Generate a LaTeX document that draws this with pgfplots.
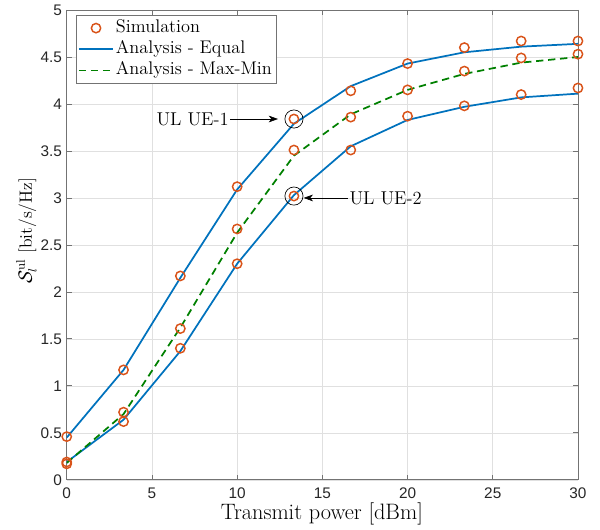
\documentclass[border=0pt]{standalone}
\usepackage{fontspec}
\setsansfont{Liberation Sans}
\usepackage{pgfplots}
\pgfplotsset{compat=1.18}
\usetikzlibrary{arrows.meta}
\definecolor{mblue}{RGB}{0,114,189}
\definecolor{morange}{RGB}{217,83,25}
\definecolor{mgreen}{RGB}{0,128,0}

\begin{document}
\begin{tikzpicture}
\begin{axis}[
    scale only axis,
    width=383pt, height=352pt,
    xmin=0, xmax=30, ymin=0, ymax=5,
    xtick={0,5,10,15,20,25,30},
    ytick={0,0.5,1,1.5,2,2.5,3,3.5,4,4.5,5},
    grid=major,
    major grid style={color=black!12, line width=0.5pt},
    axis line style={color=black!55, line width=0.6pt},
    tick style={color=black!55, line width=0.6pt},
    major tick length=4pt,
    tick align=inside,
    ticklabel style={font=\sffamily\fontsize{11.5}{13}\selectfont, text=black!85},
    xticklabel style={yshift=-2.5pt},
    /pgf/number format/assume math mode=true,
    xlabel={Transmit power [dBm]},
    ylabel={$\mathcal{S}_l^{\mathrm{ul}}$ [bit/s/Hz]},
    xlabel style={at={(axis description cs:0.499,-0.072)}, anchor=center,
        font=\fontsize{16.7}{19}\selectfont},
    ylabel style={at={(axis description cs:-0.079,0.53)}, anchor=center,
        font=\fontsize{13.3}{16}\selectfont},
    legend style={at={(rel axis cs:0.0176,0.989)}, anchor=north west,
        draw=black!55, line width=0.5pt, font=\fontsize{13.7}{16}\selectfont,
        inner sep=1.5pt,
        nodes={text height=9.5pt, text depth=3pt, inner ysep=1.7pt, inner xsep=1.5pt}},
    legend cell align=left,
    legend image code/.code={\draw[mark repeat=2, mark phase=2, #1] plot coordinates {(0cm,0cm) (0.45cm,0cm) (0.9cm,0cm)};},
]
% analysis, equal power: UE-1 and UE-2
\addplot[mblue, line width=1.3pt, forget plot] coordinates {
    (0,0.45) (3.333,1.17) (6.667,2.15) (10,3.09) (13.333,3.79)
    (16.667,4.19) (20,4.43) (23.333,4.55) (26.667,4.61) (30,4.64)};
\addplot[mblue, line width=1.3pt, forget plot] coordinates {
    (0,0.19) (3.333,0.64) (6.667,1.37) (10,2.30) (13.333,3.03)
    (16.667,3.55) (20,3.83) (23.333,3.97) (26.667,4.07) (30,4.11)};
% analysis, max-min
\addplot[mgreen, line width=1.3pt, dash pattern=on 5.5pt off 3.5pt, forget plot] coordinates {
    (0,0.18) (3.333,0.70) (6.667,1.62) (10,2.63) (13.333,3.45)
    (16.667,3.89) (20,4.15) (23.333,4.32) (26.667,4.44) (30,4.50)};
% simulation
\addplot[only marks, mark=o, mark size=3.5pt, morange, line width=1.1pt, forget plot] coordinates {
    (0,0.46) (3.333,1.17) (6.667,2.17) (10,3.12) (13.333,3.84)
    (16.667,4.14) (20,4.43) (23.333,4.60) (26.667,4.67) (30,4.67)};
\addplot[only marks, mark=o, mark size=3.5pt, morange, line width=1.1pt, forget plot] coordinates {
    (0,0.19) (3.333,0.72) (6.667,1.61) (10,2.67) (13.333,3.51)
    (16.667,3.86) (20,4.15) (23.333,4.35) (26.667,4.49) (30,4.53)};
\addplot[only marks, mark=o, mark size=3.5pt, morange, line width=1.1pt, forget plot] coordinates {
    (0,0.17) (3.333,0.62) (6.667,1.40) (10,2.30) (13.333,3.02)
    (16.667,3.51) (20,3.87) (23.333,3.98) (26.667,4.10) (30,4.17)};
% highlighted points
\addplot[only marks, mark=o, mark size=6.8pt, black, line width=0.5pt, forget plot] coordinates {
    (13.333,3.84) (13.333,3.02)};

\addlegendimage{only marks, mark=o, mark size=3.5pt, morange, line width=1.1pt}
\addlegendentry{Simulation}
\addlegendimage{mblue, line width=1.3pt}
\addlegendentry{Analysis - Equal}
\addlegendimage{mgreen, line width=1.3pt, dash pattern=on 5.5pt off 3.5pt}
\addlegendentry{Analysis - Max-Min}

\node[anchor=east, inner sep=1pt, font=\fontsize{13.9}{16}\selectfont] (u1) at (axis cs:9.6,3.84) {UL UE-1};
\draw[-{Stealth[length=7pt, width=5pt, inset=2pt]}, line width=0.5pt] (u1.east) -- (axis cs:12.4,3.84);
\node[anchor=west, inner sep=1pt, font=\fontsize{13.9}{16}\selectfont] (u2) at (axis cs:16.5,3.0) {UL UE-2};
\draw[-{Stealth[length=7pt, width=5pt, inset=2pt]}, line width=0.5pt] (u2.west) -- (axis cs:13.9,3.0);
\end{axis}
\pgfresetboundingbox
\path ([shift={(-50pt,-37.5pt)}]current axis.south west) rectangle ([shift={(16.5pt,7.5pt)}]current axis.north east);
\end{tikzpicture}
\end{document}
